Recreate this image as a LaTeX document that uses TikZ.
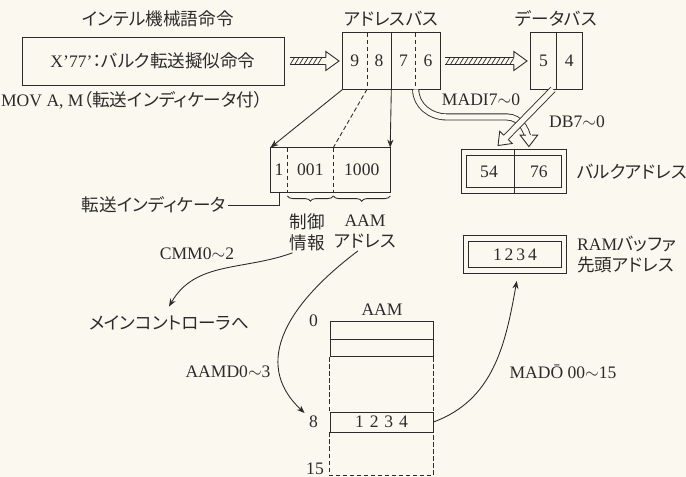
\documentclass[tikz,border=0pt]{standalone}
\usepackage{fontspec}
\setmainfont{Liberation Serif}
\newfontfamily\jp[RawFeature=+palt]{Noto Sans CJK JP}
\usetikzlibrary{arrows.meta, positioning, calc, decorations.markings, decorations.pathreplacing}
\definecolor{ink}{HTML}{2B2B2B}
\definecolor{paper}{HTML}{FBF9EF}

% open arrow head drawn at the end of a double line
\newcommand{\openhead}[3]{%
  \fill[paper] (-#1,-#3-0.5pt) rectangle (0.6pt,#3+0.5pt);
  \fill[paper] (0,0) -- (-#1,#2) -- (-#1,-#2) -- cycle;
  \draw[ink, line width=0.5pt] (-#1,#3) -- (-#1,#2) -- (0,0) -- (-#1,-#2) -- (-#1,-#3);}

\begin{document}
\begin{tikzpicture}[
  >={Stealth[length=4.5pt, width=3.5pt]},
  color=ink, line width=0.5pt,
  cell/.style={minimum width=#1, minimum height=1.12cm, inner sep=0pt},
  bit/.style={minimum width=#1, minimum height=0.88cm, inner sep=0pt},
  bk/.style={minimum width=0.98cm, minimum height=0.74cm, inner sep=0pt},
  memrow/.style={draw, minimum width=2.06cm, minimum height=#1, inner sep=0pt},
  jlbl/.style={font=\jp, inner sep=1pt},
  dsh/.style={dash pattern=on 2.5pt off 1.5pt},
  dbl/.style={double=paper, double distance=2.6pt},
  hatch/.style={double=paper, double distance=3.6pt,
    postaction={decorate, decoration={markings,
      mark=between positions 1.5pt and -8.5pt step 2.6pt with
        {\draw[line width=0.4pt] (-1.1pt,-1.8pt) -- (1.1pt,1.8pt);},
      mark=at position 1 with {\openhead{7.5pt}{5.4pt}{2.05pt}}}}},
  hollow/.style={double=paper, double distance=3pt,
    postaction={decorate, decoration={markings,
      mark=at position 1 with {\openhead{6.5pt}{5pt}{1.75pt}}}}},
]

% Background
\fill[paper] (0,0) rectangle (13.72,9.54);
\useasboundingbox (0,0) rectangle (13.72,9.54);

% =============================================
% Titles
% =============================================
\node[jlbl] (ttl) at (3.16,9.16) {インテル機械語命令};
\node[jlbl] (abttl) at (7.82,9.16) {アドレスバス};
\node[jlbl] (dbttl) at (11.12,9.16) {データバス};

% =============================================
% Instruction
% =============================================
\node[draw, minimum width=5.24cm, minimum height=0.96cm] (instr) at (3.06,8.32)
  {X'77'{\jp ：バルク転送擬似命令}};
\node (mov) at (2.64,7.54) {MOV A, M{\jp （転送インディケータ付）}};

% =============================================
% Address bus / data bus
% =============================================
\node[cell=0.47cm] (a9) at (7.095,8.32) {9};
\node[cell=0.47cm, right=0pt of a9] (a8) {8};
\node[cell=0.47cm, right=0pt of a8] (a7) {7};
\node[cell=0.47cm, right=0pt of a7] (a6) {6};
\draw (a9.north west) rectangle (a6.south east);
\draw[dsh] (a9.north east) -- (a9.south east);
\draw (a8.north east) -- (a8.south east);
\draw[dsh] (a7.north east) -- (a7.south east);

\node[cell=0.5cm] (d5) at (10.87,8.32) {5};
\node[cell=0.5cm, right=0pt of d5] (d4) {4};
\draw (d5.north west) rectangle (d4.south east);
\draw (d5.north east) -- (d5.south east);

\draw[hatch] ([xshift=3pt]instr.east) -- ([xshift=-2pt]a9.west);
\draw[hatch] ([xshift=3pt]a6.east) -- ([xshift=-2pt]d5.west);

% =============================================
% Bit field
% =============================================
\node[bit=0.32cm] (c1) at (5.58,6.14) {1};
\node[bit=0.9cm, right=0pt of c1] (c2) {001};
\node[bit=1.12cm, right=0pt of c2] (c3) {1000};
\draw (c1.north west) rectangle (c3.south east);
\draw[dsh] (c1.north east) -- (c1.south east);
\draw[dsh] (c2.north east) -- (c2.south east);

\draw[->] (a9.south west) -- (c1.north west);
\draw[dsh] (a8.south west) -- (c2.north east);
\draw[->] (a7.south west) -- (c3.north east);

\draw[decorate, decoration={brace, mirror, amplitude=3pt}]
  ([yshift=-2pt]c2.south west) -- ([yshift=-2pt]c2.south east);
\draw[decorate, decoration={brace, mirror, amplitude=3pt}]
  ([yshift=-2pt]c3.south west) -- ([yshift=-2pt]c3.south east);
\node[jlbl, align=center] (ctl) at (6.14,4.9) {制御\\情報};
\node[align=center, inner sep=1pt] (aamadr) at (7.3,4.9) {AAM\\{\jp アドレス}};

\node[jlbl] (tind) at (3.08,5.44) {転送インディケータ};
\draw (tind.east) -| (c1.south);

% =============================================
% Main controller
% =============================================
\node (cmm) at (3.94,4.46) {CMM0$\sim$2};
\node[jlbl] (mainc) at (3.38,3.08) {メインコントローラへ};
\draw[->] ([xshift=3pt]ctl.south west) to[out=200, in=60] ([yshift=4pt]mainc.north);

% =============================================
% Bulk address / RAM buffer
% =============================================
\node[bk] (b54) at (9.78,6.11) {54};
\node[bk, right=0pt of b54] (b76) {76};
\draw[dbl] (b54.north west) rectangle (b76.south east);
\draw ([yshift=1.8pt]b54.north east) -- ([yshift=-1.8pt]b54.south east);
\node[jlbl, right=6pt of b76] (bklbl) {バルクアドレス};

\node[draw, dbl, minimum width=1.96cm, minimum height=0.64cm] (ram) at (10.3,4.45) {1\,2\,3\,4};
\node[right=6pt of ram, align=left, font=\jp, inner sep=1pt] (ramlbl)
  {{\rmfamily RAM}バッファ\\先頭アドレス};

\node (madi) at (9.62,7.54) {MADI7$\sim$0};
\node (dblbl) at (11.54,7.1) {DB7$\sim$0};

\draw[hollow] (a7.south east) to[out=-90, in=180] ++(0.62,-0.55) -- ++(1.2,0)
  to[out=0, in=90] ([xshift=-0.2cm, yshift=0.12cm]b76.north);
\draw[hollow] ([xshift=-2pt]d5.south east) -- ([xshift=0.18cm, yshift=0.14cm]b54.north);

% =============================================
% AAM memory
% =============================================
\node (aamttl) at (7.64,3.34) {AAM};
\node[memrow=0.36cm] (row0) at (7.63,2.94) {};
\node[memrow=0.34cm, below=0pt of row0] (row1) {};
\node[memrow=0.4cm] (row8) at (7.63,1.1) {1\,\,2\,\,3\,\,4};
\coordinate (memb) at (0,0.03);
\draw[dsh] (row1.south west) -- (row8.north west);
\draw[dsh] (row1.south east) -- (row8.north east);
\draw[dsh] (row8.south west) -- (row8.south west |- memb) -- (row8.south east |- memb) -- (row8.south east);
\node[left=3pt of row0.north west] (n0) {0};
\node[left=3pt of row8] (n8) {8};
\node (n15) at (6.3,0.16) {15};

\node (aamd) at (4.56,2.1) {AAMD0$\sim$3};
\draw[->] ([xshift=-4pt]aamadr.south) .. controls (5.8,3.5) and (5.0,2.3) .. ([xshift=-0.5cm, yshift=0.18cm]row8.west);

\node (madolbl) at (11.26,2.1) {MAD\={O}\ 00$\sim$15};
\draw[->] (row8.east) to[out=20, in=-100] ([xshift=1pt, yshift=-0.2cm]ram.south);

\end{tikzpicture}
\end{document}
